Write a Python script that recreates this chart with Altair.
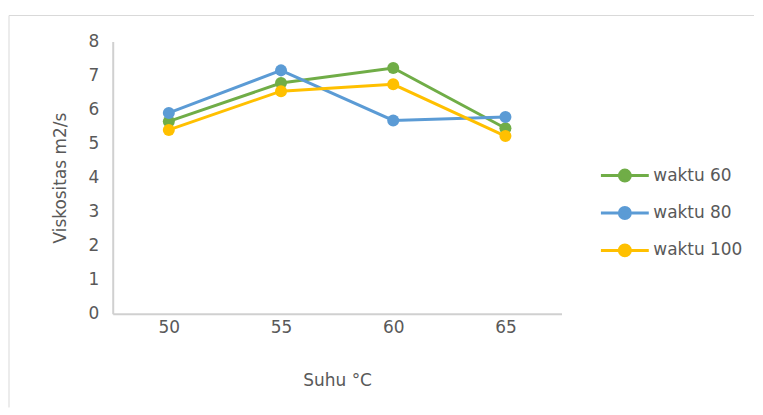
import altair as alt
import pandas as pd

suhu = [50, 55, 60, 65]
series_names = ["waktu 60", "waktu 80", "waktu 100"]
waktu60 = [5.65, 6.78, 7.22, 5.45]
waktu80 = [5.90, 7.15, 5.68, 5.78]
waktu100 = [5.40, 6.54, 6.74, 5.22]
colors = ["#70ad47", "#5b9bd5", "#ffc000"]
y_ticks = [0, 1, 2, 3, 4, 5, 6, 7, 8]

rows = []
for name, vals in zip(series_names, [waktu60, waktu80, waktu100]):
    for s, v in zip(suhu, vals):
        rows.append({"Suhu": str(s), "Viskositas": v, "Seri": name})
df = pd.DataFrame(rows)

FONT = "DejaVu Sans"
TXT = "#595959"

sym = "M-2.4,0H2.4M0.55,0A0.55,0.55,0,1,1,-0.55,0A0.55,0.55,0,1,1,0.55,0Z"

color = alt.Color(
    "Seri:N",
    scale=alt.Scale(domain=series_names, range=colors),
    sort=series_names,
    legend=alt.Legend(
        title=None, orient="none", legendX=502, legendY=123, padding=0,
        symbolType=sym, symbolSize=400, symbolStrokeWidth=3,
        labelOffset=17, rowPadding=14.5, labelFont=FONT, labelFontSize=17,
        labelColor=TXT, symbolOpacity=1,
    ),
)

x = alt.X("Suhu:O", sort=[str(s) for s in suhu],
          scale=alt.Scale(type="point", padding=0.5),
          axis=alt.Axis(title="Suhu °C", labelAngle=0, ticks=False, labelPadding=6,
                        titlePadding=37))
y = alt.Y("Viskositas:Q", scale=alt.Scale(domain=[0, 8], nice=False),
          axis=alt.Axis(title="Viskositas m2/s", values=y_ticks, ticks=False,
                        labelPadding=14, titlePadding=19, grid=False))

lines = alt.Chart(df).mark_line(strokeWidth=3).encode(x=x, y=y, color=color)
points = alt.Chart(df).mark_point(filled=True, size=145, opacity=1).encode(
    x=x, y=y, color=alt.Color("Seri:N", scale=alt.Scale(domain=series_names, range=colors), legend=None)
)

one = pd.DataFrame({"a": [0]})
frame_top = alt.Chart(one).mark_rule(color="#d9d9d9", strokeWidth=1).encode(
    x=alt.value(-104), x2=alt.value(643), y=alt.value(-26))
frame_left = alt.Chart(one).mark_rule(color="#d9d9d9", strokeWidth=1).encode(
    x=alt.value(-104), y=alt.value(-26), y2=alt.value(367))

chart = alt.layer(frame_top, frame_left, lines, points).properties(
    width=450, height=273,
    padding={"left": 0, "top": 6, "right": 0, "bottom": 0},
).configure_view(stroke=None).configure_axis(
    domainColor="#d0d0d0", domainWidth=2, grid=False,
    labelFont=FONT, labelFontSize=17, labelColor=TXT,
    titleFont=FONT, titleFontSize=17, titleColor=TXT, titleFontWeight="normal",
).configure_axisX(domain=True).configure_axisY(domain=True)

chart.save("out.html", embed_options={"renderer": "svg", "actions": False})
